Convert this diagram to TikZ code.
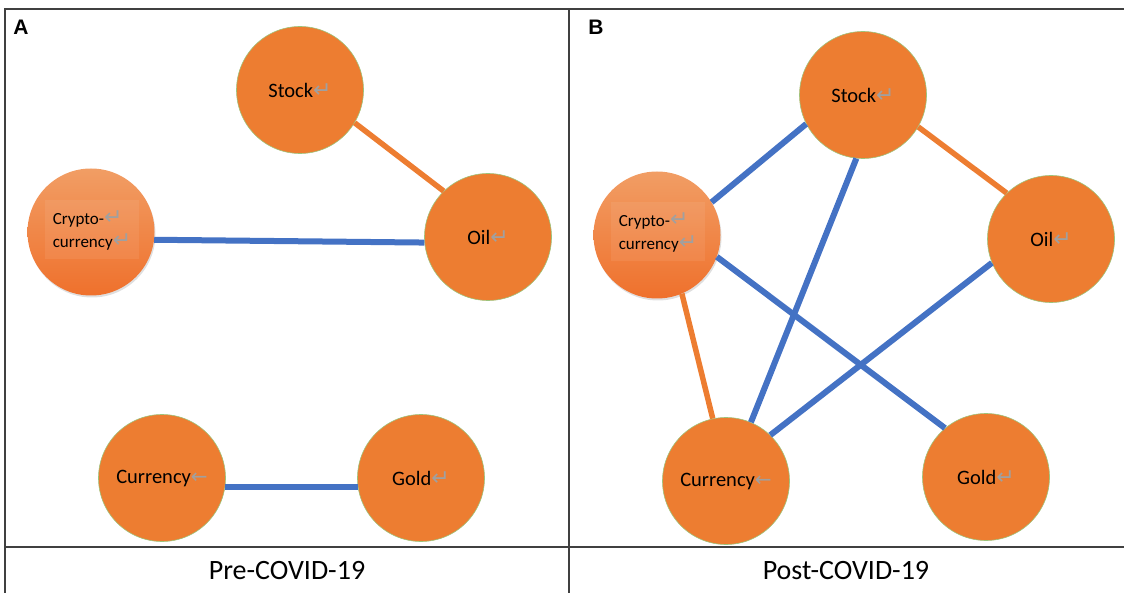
\documentclass[tikz,border=0pt]{standalone}
\usepackage{fontspec}
\setmainfont{Carlito}
\newfontfamily\panelfont{Liberation Sans Bold}
\newfontfamily\symfont{DejaVu Sans}
\usetikzlibrary{shadows}

\definecolor{nodeorange}{HTML}{ED7D31}
\definecolor{edgeblue}{HTML}{4472C4}
\definecolor{rimgreen}{HTML}{9DC37A}
\definecolor{framegray}{HTML}{404040}
\definecolor{retgray}{HTML}{A0A0A0}

\newcommand{\ret}{{\symfont\fontsize{22}{22}\selectfont\color{retgray}↵}}
\newcommand{\lft}{{\symfont\fontsize{20}{20}\selectfont\color{retgray}←}}

\tikzset{
  asset/.style={circle, minimum size=127pt, inner sep=0pt, fill=nodeorange,
    draw=rimgreen, line width=0.6pt, font=\fontsize{20.5}{24}\selectfont},
  crypto/.style={circle, minimum size=127pt, inner sep=0pt,
    top color=nodeorange!75!white, bottom color=nodeorange!90!red,
    drop shadow={shadow xshift=1pt, shadow yshift=-2pt, opacity=0.25}},
  cryptolabel/.style={fill=white, fill opacity=0.07, text opacity=1,
    minimum width=94pt, minimum height=59pt, align=left, inner sep=0pt,
    font=\fontsize{17}{23}\selectfont},
  blueline/.style={edgeblue, line width=6pt},
  orangeline/.style={nodeorange, line width=5.5pt},
  frame/.style={framegray, line width=1.4pt},
  panel/.style={font=\fontsize{21}{21}\selectfont\panelfont},
  caption/.style={font=\fontsize{28}{30}\selectfont}
}

\begin{document}
\begin{tikzpicture}[x=1pt,y=-1pt]
  \useasboundingbox (0,0) rectangle (1124,593);

  % frame of the two panels
  \draw[frame] (5,593) -- (5,9) -- (1124,9);
  \draw[frame] (569,9) -- (569,593);
  \draw[frame] (5,547) -- (1124,547);
  \node[panel] (labA) at (21,27) {A};
  \node[panel] (labB) at (596,27) {B};
  \node[caption] (capA) at (287,571) {Pre-COVID-19};
  \node[caption] (capB) at (846,571) {Post-COVID-19};

  % panel A
  \begin{scope}
    \node[asset] (stockA) at (300,90) {Stock\ret};
    \node[asset] (oilA) at (488,237) {Oil\ret};
    \node[crypto] (cryptoA) at (91,232) {};
    \node[cryptolabel] (cryptoAtext) at (92,230) {Crypto-\ret\\currency\ret};
    \node[asset] (curA) at (162,478) {Currency\lft};
    \node[asset] (goldA) at (421,478) {Gold\ret};
    \draw[blueline] (cryptoA.-7) -- (oilA.185);
    \draw[orangeline] (stockA.-31) -- (oilA.134);
    \draw[blueline] (curA.-8) -- (goldA.188);
  \end{scope}

  % panel B
  \begin{scope}
    \node[asset] (stockB) at (863,95) {Stock\ret};
    \node[asset] (oilB) at (1051,239) {Oil\ret};
    \node[crypto] (cryptoB) at (657,235) {};
    \node[cryptolabel] (cryptoBtext) at (658,232) {Crypto-\ret\\currency\ret};
    \node[asset] (curB) at (726,481) {Currency\lft};
    \node[asset] (goldB) at (986,477) {Gold\ret};
    \draw[blueline] (cryptoB.31) -- (stockB.207);
    \draw[blueline] (stockB.264) -- (curB.67);
    \draw[orangeline] (stockB.-30) -- (oilB.134);
    \draw[blueline] (oilB.202) -- (curB.46);
    \draw[blueline] (cryptoB.-20) -- (goldB.130);
    \draw[orangeline] (cryptoB.-67) -- (curB.102);
  \end{scope}

\end{tikzpicture}
\end{document}
